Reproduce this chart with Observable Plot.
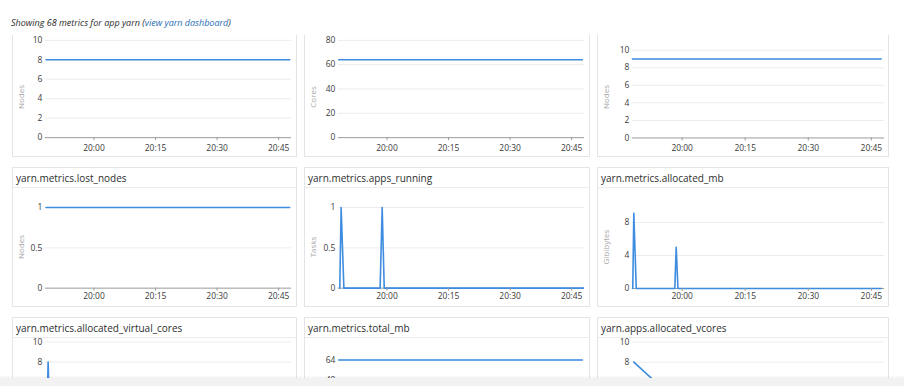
<!DOCTYPE html>
<html><head><meta charset="utf-8">
<script src="https://cdn.jsdelivr.net/npm/d3@7"></script>
<script src="https://cdn.jsdelivr.net/npm/@observablehq/plot@0.6"></script>
<style>
html,body{margin:0;padding:0;background:#fff;}
#page{position:relative;width:904px;height:386px;overflow:hidden;background:#fff;font-family:'Open Sans',sans-serif;}
#header{position:absolute;left:11px;top:16px;font-size:9px;font-style:italic;color:#2b2b2b;white-space:nowrap;line-height:14px;}
#header a{color:#1f6db3;text-decoration:none;}
#viewport{position:absolute;left:0;top:35px;width:904px;height:343px;overflow:hidden;}
.panel{position:absolute;box-sizing:border-box;border:1px solid #e4e4e4;background:#fff;}
.ptitle{position:absolute;left:0;top:0;right:0;height:20px;box-sizing:border-box;border-bottom:1px solid #ececec;padding-left:3px;font-size:10px;line-height:21px;color:#2e2e2e;white-space:nowrap;}
.ylabel{position:absolute;font-size:8px;color:#a8a8a8;transform:translate(-50%,-50%) rotate(-90deg);white-space:nowrap;}
.panel svg{position:absolute;left:-1px;top:-1px;}
#bottombar{position:absolute;left:0;top:378px;width:904px;height:8px;background:#f2f2f2;box-shadow:0 -1px 3px rgba(0,0,0,0.07);}
</style></head>
<body>
<div id="page">
  <div id="header">Showing 68 metrics for app yarn (<a href="#">view yarn dashboard</a>)</div>
  <div id="viewport"></div>
  <div id="bottombar"></div>
</div>
<script>
// ---- data ----
const xTickLabels = ["20:00", "20:15", "20:30", "20:45"];
const xDomainLabels = ["19:48:08", "20:48:08"];

const activeNodesTimes = ["19:48:20", "20:47:40"];
const activeNodesValues = [8, 8];

const totalCoresTimes = ["19:48:15", "20:47:35"];
const totalCoresValues = [64, 64];

const totalNodesTimes = ["19:48:10", "20:47:20"];
const totalNodesValues = [9, 9];

const lostNodesTimes = ["19:48:20", "20:47:40"];
const lostNodesValues = [1, 1];

const appsRunningTimes = ["19:48:30", "19:48:50", "19:49:30", "19:58:20", "19:58:50", "19:59:20", "20:47:50"];
const appsRunningValues = [0, 1, 0, 0, 1, 0, 0];

const allocatedMbTimes = ["19:48:15", "19:48:30", "19:49:05", "19:58:15", "19:58:35", "19:59:00", "20:47:20"];
const allocatedMbValues = [0, 9.1, 0, 0, 5, 0, 0];

const allocatedVcTimes = ["19:48:20", "19:48:50", "19:49:20", "19:58:20", "19:58:50", "19:59:20", "20:47:40"];
const allocatedVcValues = [0, 8, 0, 0, 4, 0, 0];

const totalMbTimes = ["19:48:15", "20:47:35"];
const totalMbValues = [64, 64];

const appsVcoresTimes = ["19:48:30", "19:59:00", "19:59:30", "20:47:20"];
const appsVcoresValues = [8, 4, 0, 0];

const yTicksTen = [0, 2, 4, 6, 8, 10];
const yTicksEighty = [0, 20, 40, 60, 80];
const yTicksOne = [0, 0.5, 1];
const yTicksGib = [0, 4, 8];
const yTicksTenVisible = [6, 8, 10];
const yTicksMbVisible = [48, 64];

// ---- layout ----
const cols = [
  {x: 12, w: 285, x0: 45, x1: 293},
  {x: 304, w: 286, x0: 338, x1: 586},
  {x: 597, w: 292, x0: 632, x1: 886}
];
const rows = [
  {y: 17, h: 140, pad: 4, xAxis: true},
  {y: 167, h: 140, pad: 2, xAxis: true},
  {y: 317, h: 140, pad: 2, xAxis: false}
];
const panels = [
  {c: 0, r: 0, title: null, unit: "Nodes", times: activeNodesTimes, values: activeNodesValues, ticks: yTicksTen, yMax: 10, yTop: 40, yZero: 138},
  {c: 1, r: 0, title: null, unit: "Cores", times: totalCoresTimes, values: totalCoresValues, ticks: yTicksEighty, yMax: 80, yTop: 40, yZero: 138},
  {c: 2, r: 0, title: null, unit: "Nodes", times: totalNodesTimes, values: totalNodesValues, ticks: yTicksTen, yMax: 11.13, yTop: 40, yZero: 138.3},
  {c: 0, r: 1, title: "yarn.metrics.lost_nodes", unit: "Nodes", times: lostNodesTimes, values: lostNodesValues, ticks: yTicksOne, yMax: 1.078, yTop: 201, yZero: 288.5},
  {c: 1, r: 1, title: "yarn.metrics.apps_running", unit: "Tasks", times: appsRunningTimes, values: appsRunningValues, ticks: yTicksOne, yMax: 1.078, yTop: 201, yZero: 288.5},
  {c: 2, r: 1, title: "yarn.metrics.allocated_mb", unit: "Gibibytes", times: allocatedMbTimes, values: allocatedMbValues, ticks: yTicksGib, yMax: 10.57, yTop: 201, yZero: 288.8},
  {c: 0, r: 2, title: "yarn.metrics.allocated_virtual_cores", unit: null, times: allocatedVcTimes, values: allocatedVcValues, ticks: yTicksTenVisible, yMax: 10, yTop: 341.7, yZero: 443},
  {c: 1, r: 2, title: "yarn.metrics.total_mb", unit: null, times: totalMbTimes, values: totalMbValues, ticks: yTicksMbVisible, yMax: 78, yTop: 341.7, yZero: 443},
  {c: 2, r: 2, title: "yarn.apps.allocated_vcores", unit: null, times: appsVcoresTimes, values: appsVcoresValues, ticks: yTicksTenVisible, yMax: 10, yTop: 341.7, yZero: 443}
];

const parseHMS = d3.utcParse("%H:%M:%S");
const parseHM = d3.utcParse("%H:%M");
const fmt = d3.utcFormat("%H:%M");
const yFmt = d => String(d);
const xDomain = xDomainLabels.map(parseHMS);
const xTicks = xTickLabels.map(parseHM);
const VIEW_TOP = 35;
const viewport = document.getElementById("viewport");

for (const p of panels) {
  const col = cols[p.c], row = rows[p.r];
  const div = document.createElement("div");
  div.className = "panel";
  div.style.left = col.x + "px";
  div.style.top = (row.y - VIEW_TOP) + "px";
  div.style.width = col.w + "px";
  div.style.height = row.h + "px";

  const data = p.times.map((t, i) => ({t: parseHMS(t), v: p.values[i]}));
  const marks = [
    Plot.gridY(p.ticks.filter(d => d > 0), {stroke: "#ececec", strokeOpacity: 1}),
    Plot.ruleY([0], {stroke: "#9a9a9a", strokeWidth: 1}),
    Plot.line(data, {x: "t", y: "v", stroke: "#3d8ce0", strokeWidth: 1.6}),
    Plot.axisY({ticks: p.ticks, tickFormat: yFmt, tickSize: 0, tickPadding: 3, fill: "#3a3a3a", label: null})
  ];
  if (row.xAxis) {
    marks.push(Plot.axisX({ticks: xTicks, tickFormat: fmt, tickSize: 3, tickPadding: row.pad, stroke: "#9a9a9a", fill: "#3a3a3a", label: null}));
  }
  const chart = Plot.plot({
    width: col.w,
    height: row.h,
    marginLeft: col.x0 - col.x,
    marginRight: col.x + col.w - col.x1,
    marginTop: p.yTop - row.y,
    marginBottom: row.y + row.h - p.yZero,
    x: {type: "utc", domain: xDomain, label: null, axis: row.xAxis ? undefined : null},
    y: {domain: [0, p.yMax], label: null},
    style: {fontFamily: "'Open Sans', sans-serif", fontSize: "8.5px", background: "transparent", overflow: "visible"},
    marks
  });
  div.appendChild(chart);

  if (p.title) {
    const t = document.createElement("div");
    t.className = "ptitle";
    t.textContent = p.title;
    div.appendChild(t);
  }
  if (p.unit) {
    const l = document.createElement("div");
    l.className = "ylabel";
    l.style.left = "7px";
    l.style.top = "79px";
    l.textContent = p.unit;
    div.appendChild(l);
  }
  viewport.appendChild(div);
}
</script>
</body></html>
